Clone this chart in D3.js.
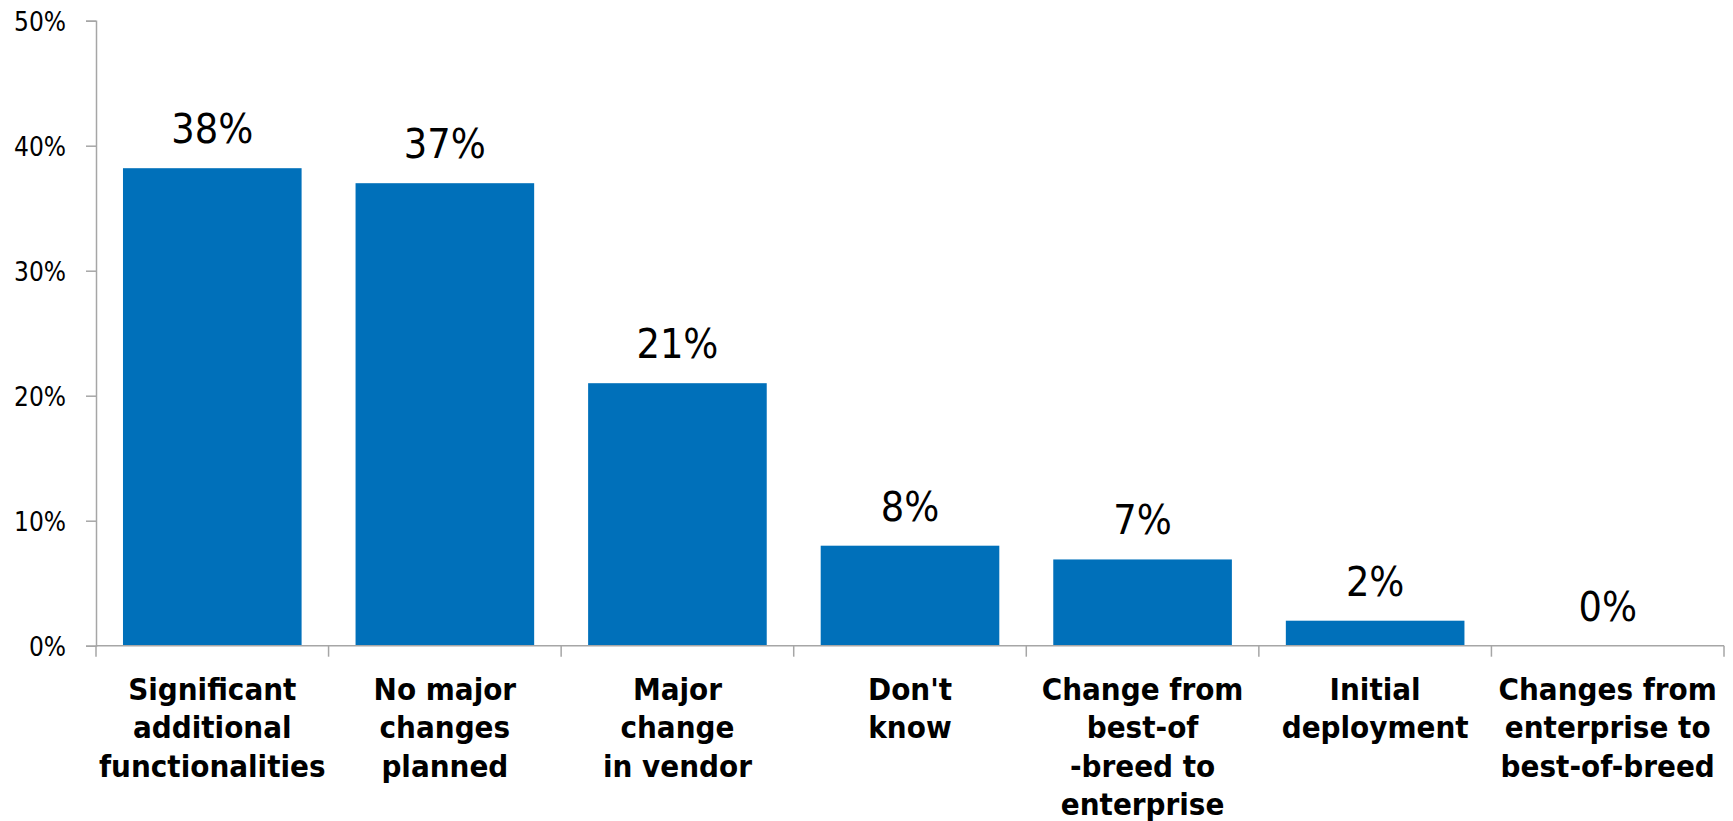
<!DOCTYPE html>
<html>
<head>
<meta charset="utf-8">
<script src="https://cdn.jsdelivr.net/npm/d3@7"></script>
<style>
  html, body { margin: 0; padding: 0; background: #fff; }
  svg { display: block; }
</style>
</head>
<body>
<svg id="chart" width="1733" height="821"></svg>
<script>
const categories = [
  ["Significant", "additional", "functionalities"],
  ["No major", "changes", "planned"],
  ["Major", "change", "in vendor"],
  ["Don't", "know"],
  ["Change from", "best-of", "-breed to", "enterprise"],
  ["Initial", "deployment"],
  ["Changes from", "enterprise to", "best-of-breed"]
];
const values = [38.2, 37.0, 21.0, 8.0, 6.9, 2.0, 0.0];
const yTicks = [0, 10, 20, 30, 40, 50];

(function () {
const svg = d3.select("#chart");
const plotLeft = 96, plotRight = 1724, plotTop = 20.7, plotBottom = 645.7;
const axisColor = "#A6A6A6";
const barColor = "#0070BA";
const fontFam = "'DejaVu Sans Condensed', 'DejaVu Sans', sans-serif";

const ids = categories.map((c, i) => i);
const x = d3.scaleBand().domain(ids).range([plotLeft, plotRight])
  .paddingInner(0.232).paddingOuter(0.116);
const y = d3.scaleLinear().domain([0, 50]).range([plotBottom, plotTop]);

// Y axis
const yAxis = d3.axisLeft(y).tickValues(yTicks).tickSize(10).tickPadding(20)
  .tickFormat(d => d + "%");
const gy = svg.append("g").attr("transform", `translate(${plotLeft},0)`).call(yAxis);
gy.select(".domain").attr("stroke", axisColor).attr("stroke-width", 1.5);
gy.selectAll(".tick line").attr("stroke", axisColor).attr("stroke-width", 1.5);
gy.selectAll(".tick text")
  .attr("font-family", fontFam)
  .attr("font-stretch", "condensed")
  .attr("font-size", 26).attr("fill", "#000")
  .attr("dy", "0.36em");

// Bars
svg.append("g").selectAll("rect").data(values).join("rect")
  .attr("x", (d, i) => x(i))
  .attr("width", x.bandwidth())
  .attr("y", d => y(d))
  .attr("height", d => y(0) - y(d))
  .attr("fill", barColor);

// X axis line and boundary ticks
svg.append("line").attr("x1", plotLeft).attr("x2", plotRight)
  .attr("y1", plotBottom).attr("y2", plotBottom)
  .attr("stroke", axisColor).attr("stroke-width", 1.5);
const step = x.step();
const bounds = d3.range(categories.length + 1).map(i => plotLeft + i * step);
svg.append("g").selectAll("line").data(bounds).join("line")
  .attr("x1", d => d).attr("x2", d => d)
  .attr("y1", plotBottom).attr("y2", plotBottom + 11)
  .attr("stroke", axisColor).attr("stroke-width", 1.5);

// Value labels
svg.append("g").selectAll("text").data(values).join("text")
  .attr("x", (d, i) => x(i) + x.bandwidth() / 2)
  .attr("y", d => y(d) - 25)
  .attr("text-anchor", "middle")
  .attr("font-family", fontFam)
  .attr("font-stretch", "condensed")
  .attr("font-size", 41).attr("fill", "#000")
  .text(d => d3.format(".0f")(d) + "%");

// Category labels
const cg = svg.append("g");
categories.forEach((lines, i) => {
  const cx = x(i) + x.bandwidth() / 2;
  const t = cg.append("text")
    .attr("x", cx)
    .attr("y", 700)
    .attr("text-anchor", "middle")
    .attr("font-family", fontFam)
    .attr("font-stretch", "condensed")
    .attr("font-weight", "bold")
    .attr("font-size", 31).attr("fill", "#000");
  lines.forEach((ln, j) => {
    t.append("tspan").attr("x", cx).attr("y", 700 + j * 38.3).text(ln);
  });
});
})();
</script>
</body>
</html>
